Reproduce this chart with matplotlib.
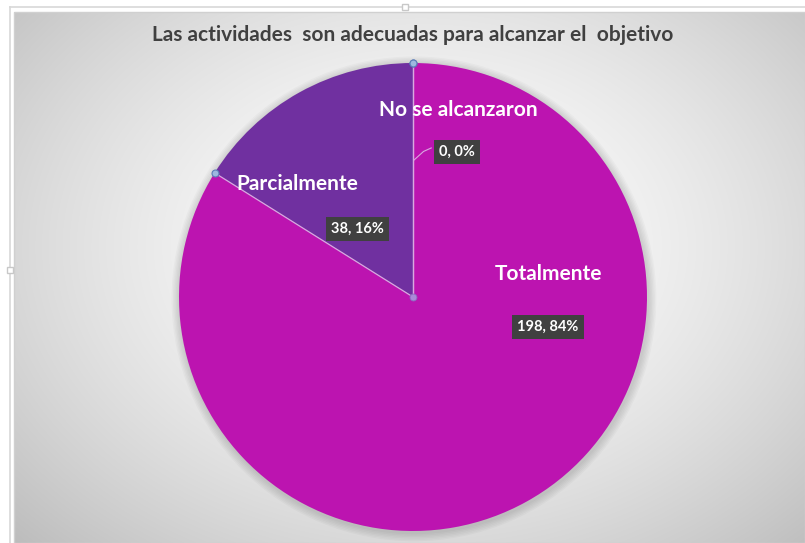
import numpy as np
import matplotlib.pyplot as plt
from matplotlib.patches import Rectangle

# Data
categories = ['Totalmente', 'Parcialmente', 'No se alcanzaron']
values = [198, 38, 0]
percents = [84, 16, 0]
colors = ['#BC14B0', '#7030A0', '#4472C4']

title = 'Las actividades  son adecuadas para alcanzar el  objetivo'

W, H = 805, 543
fig = plt.figure(figsize=(W / 100, H / 100), dpi=100)
fig.patch.set_facecolor('white')

# Background with radial gradient (chart area)
bg = fig.add_axes([0, 0, 1, 1])
bg.set_xlim(0, W)
bg.set_ylim(H, 0)
bg.axis('off')
yy, xx = np.mgrid[0:H, 0:W]
d = np.sqrt(((xx - 413) / 560) ** 2 + ((yy - 240) / 420) ** 2)
shade = 1 - 0.25 * np.clip(d, 0, 1.2) ** 1.6
img = np.dstack([shade, shade, shade])
bg.imshow(img, extent=(14, W, H, 12), aspect='auto', zorder=0)
bg.add_patch(Rectangle((14, 12), W - 14, H - 12, fill=False, edgecolor='#D0D0D0', lw=1, zorder=1))
bg.plot([10, W], [7, 7], color='#D8D8D8', lw=1.2, zorder=1)
bg.plot([10, 10], [7, H], color='#D8D8D8', lw=1.2, zorder=1)
bg.plot([405], [7], marker='s', ms=5, mfc='white', mec='#C8C8C8', zorder=2)
bg.plot([10], [270], marker='s', ms=4, mfc='white', mec='#C8C8C8', zorder=2)

bg.text(413, 35, title, ha='center', va='center', fontsize=15, fontweight='bold',
        color='#404040', family=['Lato', 'DejaVu Sans'])

# Pie
cx, cy, r = 413, 297, 234
ax = fig.add_axes([(cx - r) / W, (H - cy - r) / H, 2 * r / W, 2 * r / H])
ax.patch.set_alpha(0)

# soft shadow behind the pie
for k in range(6):
    ax.pie([1], colors=['#000000'], radius=1.0 + 0.006 * (k + 1), center=(0.004, -0.008),
           wedgeprops=dict(alpha=0.025, linewidth=0))

wedges, _ = ax.pie(values, colors=colors, startangle=90, counterclock=False, radius=1,
                   wedgeprops=dict(linewidth=0))
ax.set_xlim(-1, 1)
ax.set_ylim(-1, 1)
ax.set_aspect('equal')
ax.axis('off')

# slice boundaries and selection handles
total = sum(values)
cum = np.cumsum([0] + values)
for c in cum[:-1]:
    ang = np.deg2rad(90 - 360 * c / total)
    ax.plot([0, np.cos(ang)], [0, np.sin(ang)], color='#D8A8E0', lw=0.9, zorder=4)
    ax.plot(np.cos(ang), np.sin(ang), 'o', ms=5, mfc='#9DB8E0', mec='#5B7DB8', mew=0.8,
            zorder=5, clip_on=False)
ax.plot(0, 0, 'o', ms=5, mfc='#A98AD8', mec='#8A6AC0', mew=0.6, zorder=5)

# labels (positions in pie units)
name_pos = [(0.577, 0.098), (-0.496, 0.483), (0.192, 0.799)]
value_pos = [(0.577, -0.128), (-0.239, 0.291), (0.188, 0.620)]
font = ['Lato', 'DejaVu Sans']
for name, v, p, npos, vpos in zip(categories, values, percents, name_pos, value_pos):
    ax.text(*npos, name, ha='center', va='center', fontsize=15, fontweight='bold',
            color='white', family=font, zorder=6)
    ax.text(*vpos, f'{v}, {p}%', ha='center', va='center', fontsize=10.5, fontweight='bold',
            color='white', family=font, zorder=6,
            bbox=dict(boxstyle='square,pad=0.35', fc='#404040', ec='none'))

# leader line for the 0% slice
ax.plot([0.004, 0.045, 0.078], [0.585, 0.622, 0.637], color='#D8A8E0', lw=0.8, zorder=5)

fig.savefig('out.png', dpi=100)
